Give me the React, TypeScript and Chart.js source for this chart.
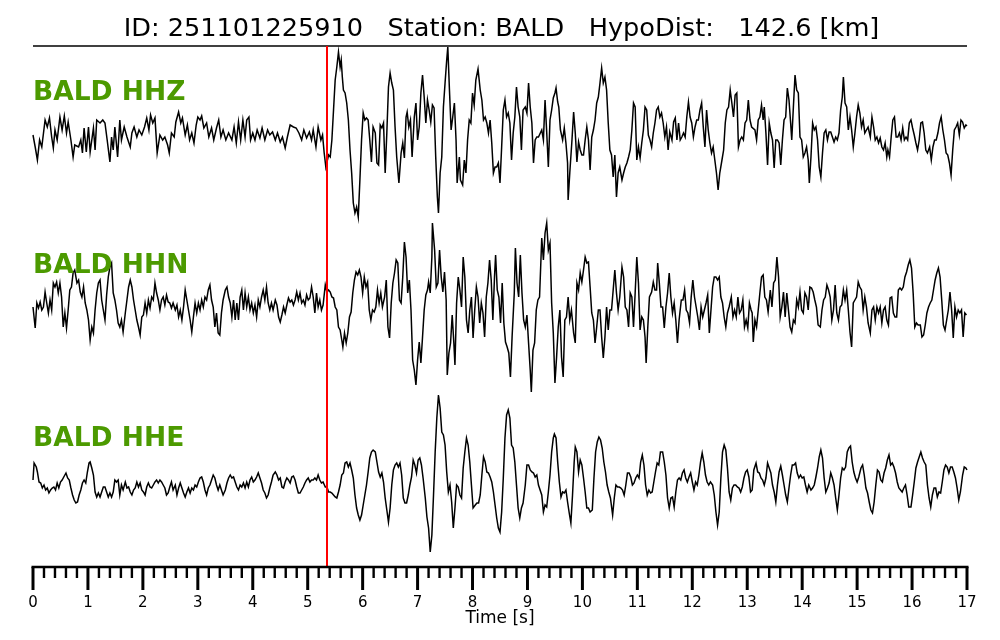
import React, { useEffect, useRef } from "react";
import { Chart, registerables } from "chart.js";

Chart.register(...registerables);

// ---------------- data ----------------
const titleText = "ID: 251101225910   Station: BALD   HypoDist:   142.6 [km]";
const channelNames = ["BALD HHZ", "BALD HHN", "BALD HHE"];
const xAxisTitle = "Time [s]";
const pickTime = 5.35; // P pick [s]
const timeMin = 0;
const timeMax = 17;
const majorTickStep = 1;
const minorTickStep = 0.2;
const tickLabels = ["0","1","2","3","4","5","6","7","8","9","10","11","12","13","14","15","16","17"];

// [time s, relative amplitude]
const hhzTrace: number[][] = [
[0.00,0],[0.04,-12],[0.08,-25],[0.12,-5],[0.16,-12],[0.22,15],[0.26,8],[0.30,17],[0.34,-2],[0.37,-13],[0.40,5],[0.44,-5],[0.49,18],[0.53,5],[0.57,19],[0.61,2],[0.64,13],[0.69,-5],[0.73,-22],[0.76,-10],[0.83,-12],[0.87,-5],[0.90,-18],[0.93,7],[0.97,-17],[1.01,8],[1.04,-17],[1.10,7],[1.13,-15],[1.16,15],[1.22,12],[1.27,15],[1.31,12],[1.35,-5],[1.40,-27],[1.43,-2],[1.46,-15],[1.49,8],[1.54,-22],[1.58,15],[1.61,-5],[1.66,8],[1.71,-2],[1.77,-12],[1.80,2],[1.84,8],[1.89,-2],[1.93,5],[1.98,0],[2.03,8],[2.07,17],[2.11,5],[2.14,20],[2.18,12],[2.22,17],[2.26,-18],[2.31,0],[2.36,-5],[2.40,-2],[2.45,-10],[2.48,-18],[2.52,2],[2.57,-2],[2.60,13],[2.65,23],[2.69,12],[2.72,17],[2.77,0],[2.81,10],[2.85,-5],[2.89,2],[2.93,-8],[2.97,10],[3.00,18],[3.04,15],[3.07,19],[3.11,7],[3.16,12],[3.20,-2],[3.25,7],[3.29,-5],[3.34,7],[3.38,15],[3.42,-2],[3.46,5],[3.51,-5],[3.56,2],[3.62,-5],[3.66,8],[3.70,-8],[3.74,13],[3.78,-5],[3.82,15],[3.86,-2],[3.89,15],[3.93,18],[3.96,-5],[4.00,2],[4.04,-5],[4.08,5],[4.13,-3],[4.17,7],[4.22,-5],[4.27,5],[4.31,0],[4.36,3],[4.41,-5],[4.45,2],[4.50,-7],[4.54,-2],[4.59,-13],[4.63,-2],[4.68,10],[4.74,8],[4.79,7],[4.84,2],[4.89,-5],[4.93,5],[4.98,-3],[5.03,3],[5.07,-5],[5.10,5],[5.15,-12],[5.19,8],[5.24,-5],[5.27,0],[5.30,-18],[5.33,-32],
[5.38,-20],[5.41,-22],[5.44,-5],[5.47,25],[5.50,55],[5.53,68],[5.56,83],[5.59,68],[5.61,75],[5.63,58],[5.65,45],[5.68,42],[5.71,32],[5.74,15],[5.77,-15],[5.80,-38],[5.83,-68],[5.86,-78],[5.89,-72],[5.92,-82],[5.95,-45],[5.98,-5],[6.01,22],[6.04,15],[6.07,17],[6.10,15],[6.13,-5],[6.16,-27],[6.19,8],[6.23,2],[6.26,-28],[6.29,-30],[6.32,10],[6.35,7],[6.38,12],[6.41,-38],[6.44,2],[6.47,48],[6.50,62],[6.53,52],[6.56,45],[6.59,8],[6.62,-22],[6.66,-48],[6.70,-18],[6.73,-8],[6.76,-23],[6.79,18],[6.81,23],[6.84,8],[6.87,15],[6.90,-22],[6.94,18],[6.97,32],[7.00,-5],[7.03,8],[7.06,42],[7.09,60],[7.12,38],[7.15,12],[7.18,35],[7.21,25],[7.24,13],[7.27,30],[7.30,27],[7.33,-22],[7.36,-62],[7.38,-78],[7.41,-38],[7.44,-22],[7.47,28],[7.50,52],[7.53,75],[7.55,88],[7.58,45],[7.61,5],[7.64,18],[7.67,32],[7.70,-5],[7.72,-48],[7.76,-22],[7.78,-45],[7.82,-50],[7.85,-25],[7.88,-38],[7.91,-5],[7.94,15],[7.97,12],[8.00,42],[8.03,30],[8.06,55],[8.10,66],[8.14,45],[8.17,35],[8.20,15],[8.23,18],[8.26,12],[8.29,2],[8.32,15],[8.35,-8],[8.38,-38],[8.41,-32],[8.44,-32],[8.47,-28],[8.50,-48],[8.53,-12],[8.56,25],[8.59,35],[8.62,18],[8.65,22],[8.68,12],[8.71,-25],[8.74,2],[8.77,18],[8.80,48],[8.83,28],[8.86,18],[8.89,-15],[8.92,25],[8.96,28],[8.99,22],[9.02,52],[9.05,28],[9.08,12],[9.11,-28],[9.14,-5],[9.17,-2],[9.20,-2],
[9.26,5],[9.29,-5],[9.32,35],[9.35,3],[9.38,-32],[9.41,15],[9.44,25],[9.47,37],[9.50,42],[9.52,47],[9.55,33],[9.57,28],[9.60,5],[9.64,-5],[9.67,7],[9.70,-8],[9.73,-28],[9.74,-65],[9.77,-38],[9.81,-5],[9.84,23],[9.87,2],[9.90,-27],[9.93,-7],[9.96,-15],[9.99,-20],[10.02,-20],[10.05,-5],[10.08,8],[10.11,-5],[10.14,-35],[10.17,-2],[10.20,5],[10.23,15],[10.26,32],[10.29,38],[10.32,52],[10.35,67],[10.38,52],[10.41,58],[10.44,45],[10.47,12],[10.50,-15],[10.53,-20],[10.56,-42],[10.59,-20],[10.62,-62],[10.65,-38],[10.68,-32],[10.72,-45],[10.75,-38],[10.78,-32],[10.81,-28],[10.84,-22],[10.87,-15],[10.90,5],[10.93,32],[10.96,28],[10.99,-25],[11.02,-12],[11.05,-23],[11.08,-8],[11.11,5],[11.14,28],[11.17,25],[11.20,0],[11.23,-5],[11.26,-12],[11.29,2],[11.32,12],[11.35,25],[11.38,28],[11.41,18],[11.44,22],[11.47,12],[11.50,-2],[11.53,8],[11.56,-15],[11.59,3],[11.63,-5],[11.66,13],[11.69,17],[11.72,-5],[11.75,12],[11.78,-5],[11.81,-2],[11.84,2],[11.87,-2],[11.90,18],[11.93,33],[11.96,18],[11.99,12],[12.02,-2],[12.05,8],[12.08,15],[12.11,15],[12.14,25],[12.17,32],[12.20,8],[12.23,-12],[12.26,25],[12.29,5],[12.32,-8],[12.35,-18],[12.38,-12],[12.41,-25],[12.44,-38],[12.47,-55],[12.50,-38],[12.54,-25],[12.57,-15],[12.60,12],[12.63,25],[12.66,28],[12.69,45],[12.72,32],[12.75,18],[12.78,40],[12.81,42],[12.84,-12],[12.87,-5],[12.90,-2],[12.93,-5],[12.96,12],[12.99,15],[13.02,35],[13.05,15],[13.08,8],
[13.14,5],[13.17,-5],[13.20,15],[13.23,18],[13.26,30],[13.29,15],[13.31,28],[13.34,2],[13.37,-30],[13.40,12],[13.43,2],[13.46,-5],[13.49,-33],[13.52,-5],[13.55,-5],[13.58,-8],[13.61,-30],[13.64,-5],[13.67,15],[13.70,18],[13.73,47],[13.76,35],[13.79,12],[13.81,-5],[13.84,28],[13.87,60],[13.90,45],[13.93,42],[13.96,-2],[13.99,-5],[14.02,-22],[14.05,-18],[14.08,-12],[14.11,-25],[14.13,-48],[14.16,-22],[14.19,12],[14.22,5],[14.25,8],[14.28,-5],[14.31,-32],[14.34,-42],[14.37,-18],[14.40,2],[14.43,5],[14.46,-5],[14.49,3],[14.52,3],[14.55,-2],[14.58,-7],[14.61,-2],[14.64,-5],[14.67,2],[14.70,25],[14.73,38],[14.75,58],[14.78,32],[14.81,28],[14.84,5],[14.87,18],[14.90,5],[14.93,-12],[14.96,2],[14.99,18],[15.02,30],[15.05,22],[15.08,8],[15.11,15],[15.14,2],[15.17,5],[15.20,8],[15.24,-2],[15.27,18],[15.30,8],[15.33,-5],[15.36,-2],[15.39,-8],[15.42,-3],[15.45,-12],[15.48,-15],[15.51,-8],[15.54,-22],[15.56,-15],[15.59,-22],[15.62,-2],[15.65,15],[15.68,18],[15.71,-2],[15.74,-2],[15.77,2],[15.80,-5],[15.83,7],[15.86,-5],[15.89,-2],[15.92,-5],[15.95,12],[15.98,15],[16.01,7],[16.04,0],[16.07,-8],[16.10,-15],[16.13,-5],[16.16,12],[16.19,13],[16.22,2],[16.25,-15],[16.28,-18],[16.32,-12],[16.35,-25],[16.38,-12],[16.41,-5],[16.44,-5],[16.47,2],[16.50,12],[16.53,18],[16.56,5],[16.59,-5],[16.62,-18],[16.65,-20],[16.68,-28],[16.71,-40],[16.74,-15],[16.77,5],[16.80,8],[16.83,12],[16.86,0],[16.89,15],[16.92,13],[16.95,7],[16.98,10],[17.00,9]
];

const hhnTrace: number[][] = [
[0.00,0],[0.04,-21],[0.07,4],[0.10,-1],[0.13,5],[0.16,-3],[0.19,0],[0.22,15],[0.25,4],[0.28,-6],[0.31,7],[0.34,-3],[0.37,24],[0.40,20],[0.43,25],[0.46,14],[0.49,24],[0.52,10],[0.55,-20],[0.58,-6],[0.61,-21],[0.64,-3],[0.67,17],[0.70,20],[0.73,34],[0.76,37],[0.80,24],[0.83,27],[0.86,15],[0.89,10],[0.92,20],[0.95,4],[0.98,-3],[1.01,-13],[1.04,-33],[1.07,-20],[1.10,-26],[1.13,-3],[1.16,14],[1.19,24],[1.22,27],[1.25,7],[1.28,-3],[1.31,-13],[1.34,12],[1.37,30],[1.40,40],[1.43,44],[1.46,14],[1.49,7],[1.52,-3],[1.55,-16],[1.58,-20],[1.61,-13],[1.64,-25],[1.68,-6],[1.71,7],[1.74,20],[1.77,27],[1.80,20],[1.83,7],[1.86,-3],[1.89,-13],[1.92,-20],[1.95,-28],[1.98,-10],[2.01,-8],[2.04,4],[2.07,-6],[2.10,7],[2.13,-1],[2.16,10],[2.19,7],[2.22,24],[2.25,14],[2.28,7],[2.31,-3],[2.34,7],[2.37,10],[2.40,2],[2.43,12],[2.46,5],[2.49,4],[2.52,-1],[2.55,4],[2.59,-3],[2.62,2],[2.65,-10],[2.68,-3],[2.71,-13],[2.74,0],[2.77,17],[2.80,7],[2.83,-3],[2.86,-13],[2.89,-25],[2.92,-10],[2.95,4],[2.98,-6],[3.01,4],[3.04,-3],[3.07,7],[3.10,0],[3.13,10],[3.16,7],[3.19,17],[3.22,22],[3.25,7],[3.28,0],[3.31,-20],[3.34,-6],[3.37,-26],[3.40,-28],[3.43,-6],[3.46,7],[3.50,17],[3.53,20],[3.56,10],[3.59,4],[3.62,-10],[3.65,7],[3.68,-13],[3.71,4],[3.74,-13],[3.77,10],[3.80,17],[3.83,-3],[3.86,14],[3.89,0],[3.92,10],[3.95,-3],[3.98,4],[4.01,-6],[4.04,2],[4.07,-10],[4.10,7],[4.13,0],[4.16,10],[4.19,17],[4.22,7],[4.25,20],[4.28,4],[4.31,-3],[4.34,4],[4.37,-3],[4.41,7],[4.44,2],[4.47,-10],[4.50,-15],[4.53,-8],[4.56,0],[4.59,-6],[4.62,2],[4.65,9],[4.68,5],[4.71,7],[4.74,2],[4.77,7],[4.80,15],[4.83,7],[4.86,14],[4.89,4],[4.92,7],[4.95,2],[4.98,12],[5.01,7],[5.04,9],[5.07,20],[5.10,10],[5.13,-6],[5.16,14],[5.19,0],[5.22,7],[5.25,-3],[5.28,2],[5.32,22],[5.35,15],
[5.38,17],[5.41,15],[5.44,10],[5.47,9],[5.50,0],[5.53,-3],[5.56,-20],[5.59,-23],[5.62,-33],[5.64,-40],[5.67,-26],[5.70,-36],[5.73,-26],[5.76,-10],[5.79,-5],[5.82,14],[5.85,27],[5.88,35],[5.91,32],[5.94,37],[5.97,30],[6.00,14],[6.03,30],[6.06,20],[6.09,25],[6.12,-3],[6.15,-13],[6.18,-3],[6.21,-5],[6.24,0],[6.27,17],[6.30,4],[6.33,14],[6.36,0],[6.40,10],[6.43,27],[6.46,-20],[6.49,-31],[6.52,4],[6.55,24],[6.58,34],[6.61,47],[6.64,44],[6.67,7],[6.70,4],[6.73,30],[6.76,65],[6.79,50],[6.82,14],[6.85,27],[6.88,-3],[6.91,-53],[6.94,-63],[6.97,-78],[7.00,-53],[7.03,-35],[7.06,-56],[7.09,-30],[7.12,-3],[7.15,12],[7.18,17],[7.20,25],[7.23,14],[7.26,50],[7.27,84],[7.31,57],[7.34,20],[7.37,24],[7.40,57],[7.43,30],[7.46,15],[7.49,35],[7.52,7],[7.54,-68],[7.57,-46],[7.60,-36],[7.63,-8],[7.66,-36],[7.68,-58],[7.71,4],[7.74,30],[7.77,17],[7.80,0],[7.83,50],[7.86,30],[7.89,-13],[7.92,-26],[7.95,-3],[7.98,10],[8.01,-31],[8.04,-3],[8.07,20],[8.10,10],[8.13,-16],[8.16,4],[8.19,-6],[8.22,-30],[8.25,10],[8.28,24],[8.31,47],[8.34,27],[8.37,-13],[8.40,30],[8.42,52],[8.45,17],[8.48,10],[8.51,-16],[8.54,24],[8.57,-16],[8.60,-35],[8.63,-40],[8.66,-46],[8.69,-70],[8.72,-30],[8.76,14],[8.78,59],[8.81,24],[8.84,10],[8.87,52],[8.90,14],[8.93,-13],[8.96,-20],[8.99,-8],[9.02,-36],[9.05,-63],[9.07,-85],[9.10,-43],[9.13,-36],[9.16,-3],[9.19,7],[9.22,10],
[9.26,69],[9.29,47],[9.32,74],[9.35,84],[9.38,57],[9.41,64],[9.44,4],[9.47,-26],[9.50,-76],[9.53,-50],[9.56,-20],[9.59,-3],[9.62,-50],[9.65,-70],[9.68,-13],[9.71,-10],[9.74,10],[9.77,-13],[9.80,-3],[9.84,-26],[9.87,-36],[9.90,24],[9.93,17],[9.96,34],[9.99,25],[10.02,37],[10.05,50],[10.08,44],[10.11,45],[10.14,20],[10.17,-6],[10.20,-13],[10.23,-36],[10.26,-20],[10.29,-3],[10.32,-3],[10.35,-30],[10.38,-51],[10.41,-30],[10.44,0],[10.47,-23],[10.50,-3],[10.53,-3],[10.56,17],[10.59,37],[10.62,14],[10.65,-3],[10.68,10],[10.72,40],[10.75,30],[10.78,0],[10.81,-3],[10.84,-20],[10.87,14],[10.90,10],[10.93,-20],[10.96,14],[10.99,50],[11.02,24],[11.05,-23],[11.08,-10],[11.11,-13],[11.14,-30],[11.16,-56],[11.19,-20],[11.22,10],[11.26,15],[11.29,25],[11.32,17],[11.35,17],[11.37,44],[11.40,24],[11.43,0],[11.46,0],[11.49,-21],[11.52,0],[11.55,14],[11.58,34],[11.61,10],[11.64,-6],[11.67,4],[11.70,-13],[11.73,-36],[11.76,-13],[11.80,7],[11.83,7],[11.86,17],[11.89,-3],[11.92,-6],[11.95,-16],[11.98,10],[12.01,27],[12.04,10],[12.07,0],[12.10,-10],[12.13,-23],[12.16,0],[12.19,-10],[12.22,-3],[12.25,4],[12.28,12],[12.31,-26],[12.34,-3],[12.37,20],[12.40,30],[12.43,30],[12.46,27],[12.49,30],[12.52,10],[12.55,4],[12.58,-10],[12.61,-20],[12.64,-6],[12.67,0],[12.71,10],[12.74,-10],[12.77,-3],[12.80,-10],[12.83,10],[12.86,-6],[12.89,-3],[12.92,7],[12.95,-20],[12.98,-13],[13.01,-21],[13.04,4],[13.07,-3],[13.09,-6],[13.11,-35],
[13.14,-13],[13.17,-20],[13.20,-3],[13.23,14],[13.26,30],[13.29,32],[13.32,10],[13.35,7],[13.38,-5],[13.42,17],[13.45,0],[13.48,24],[13.51,27],[13.54,50],[13.57,30],[13.60,-10],[13.63,0],[13.66,15],[13.69,-10],[13.72,14],[13.75,-3],[13.78,-20],[13.81,-25],[13.84,-13],[13.87,-16],[13.90,7],[13.93,0],[13.96,15],[13.99,-3],[14.02,-6],[14.05,14],[14.08,10],[14.11,-3],[14.14,20],[14.17,19],[14.20,15],[14.23,7],[14.26,0],[14.29,-18],[14.33,-20],[14.36,-3],[14.39,7],[14.42,10],[14.45,22],[14.48,17],[14.51,10],[14.54,-13],[14.57,-3],[14.60,22],[14.63,-6],[14.66,-13],[14.69,0],[14.72,2],[14.75,17],[14.78,7],[14.81,17],[14.84,-3],[14.87,-25],[14.90,-40],[14.93,4],[14.96,7],[14.99,10],[15.02,25],[15.05,20],[15.08,17],[15.11,-3],[15.14,10],[15.17,0],[15.20,-16],[15.24,-26],[15.27,-3],[15.30,0],[15.33,-13],[15.36,0],[15.39,-6],[15.42,0],[15.45,-16],[15.48,-3],[15.51,0],[15.54,-13],[15.57,-18],[15.60,9],[15.63,10],[15.66,-6],[15.69,-10],[15.72,-10],[15.75,17],[15.78,19],[15.81,17],[15.84,20],[15.87,30],[15.90,35],[15.93,42],[15.96,47],[15.99,39],[16.02,14],[16.05,-20],[16.08,-16],[16.11,-18],[16.15,-18],[16.18,-30],[16.21,-28],[16.24,-18],[16.27,-6],[16.30,0],[16.33,4],[16.36,7],[16.39,17],[16.42,27],[16.45,34],[16.48,39],[16.51,30],[16.54,7],[16.57,-18],[16.60,-23],[16.63,-13],[16.66,-3],[16.69,15],[16.72,-3],[16.75,-31],[16.78,0],[16.81,-10],[16.84,-3],[16.87,-6],[16.90,-3],[16.93,-30],[16.96,-6],[16.99,-8]
];

const hheTrace: number[][] = [
[0.00,7],[0.02,24],[0.06,20],[0.08,15],[0.11,5],[0.14,4],[0.17,-1],[0.20,2],[0.23,-3],[0.26,-1],[0.29,-6],[0.32,-3],[0.35,-1],[0.38,0],[0.41,-3],[0.44,4],[0.47,-1],[0.50,5],[0.53,7],[0.56,10],[0.60,14],[0.63,9],[0.66,7],[0.69,-1],[0.72,-8],[0.75,-13],[0.78,-16],[0.81,-15],[0.84,-8],[0.87,-3],[0.90,4],[0.93,7],[0.96,4],[0.99,15],[1.02,24],[1.04,25],[1.07,19],[1.10,12],[1.13,-5],[1.16,-10],[1.19,-6],[1.22,-10],[1.25,-5],[1.28,0],[1.31,0],[1.34,-5],[1.37,-10],[1.40,-6],[1.43,-10],[1.46,-5],[1.49,7],[1.52,5],[1.55,7],[1.58,-8],[1.61,2],[1.64,-3],[1.68,5],[1.71,-1],[1.74,0],[1.77,-5],[1.80,-8],[1.83,-3],[1.86,-1],[1.89,5],[1.92,0],[1.95,4],[1.98,-3],[2.01,-5],[2.04,-8],[2.07,0],[2.10,4],[2.13,0],[2.16,-1],[2.19,2],[2.22,5],[2.25,7],[2.28,4],[2.31,7],[2.34,5],[2.37,2],[2.40,-1],[2.43,-8],[2.46,-6],[2.49,0],[2.52,5],[2.55,-3],[2.59,2],[2.62,-8],[2.65,-1],[2.68,4],[2.71,-1],[2.74,-6],[2.77,-10],[2.80,-5],[2.83,-1],[2.86,-6],[2.89,-1],[2.92,-3],[2.95,2],[2.98,0],[3.01,5],[3.04,9],[3.07,10],[3.10,5],[3.13,-3],[3.16,-8],[3.19,-1],[3.22,2],[3.25,7],[3.28,12],[3.31,9],[3.34,2],[3.37,-3],[3.40,2],[3.43,-3],[3.46,-8],[3.50,-3],[3.53,4],[3.56,9],[3.59,12],[3.62,9],[3.65,10],[3.68,5],[3.71,0],[3.74,-3],[3.77,2],[3.80,0],[3.83,4],[3.86,-1],[3.89,5],[3.92,0],[3.95,7],[3.98,10],[4.01,5],[4.04,7],[4.07,10],[4.10,14],[4.13,9],[4.16,4],[4.19,-3],[4.22,-6],[4.25,-11],[4.28,-8],[4.31,-1],[4.34,5],[4.37,12],[4.41,15],[4.44,12],[4.47,7],[4.50,9],[4.53,0],[4.56,-1],[4.59,5],[4.62,9],[4.65,7],[4.68,4],[4.71,10],[4.74,11],[4.77,7],[4.80,0],[4.83,-6],[4.86,-6],[4.89,-3],[4.92,0],[4.95,4],[4.98,7],[5.01,9],[5.04,5],[5.07,7],[5.10,7],[5.13,9],[5.16,7],[5.19,12],[5.22,7],[5.25,4],[5.28,5],[5.32,0],[5.35,0],
[5.38,-5],[5.41,-5],[5.44,-6],[5.47,-8],[5.50,-10],[5.53,-11],[5.56,-5],[5.59,2],[5.62,12],[5.65,14],[5.68,24],[5.71,25],[5.74,20],[5.77,24],[5.80,17],[5.83,9],[5.86,-8],[5.89,-21],[5.92,-28],[5.95,-33],[5.98,-28],[6.01,-18],[6.04,-8],[6.07,2],[6.10,15],[6.13,29],[6.16,35],[6.19,37],[6.23,35],[6.26,25],[6.29,15],[6.32,10],[6.35,14],[6.38,5],[6.41,-11],[6.44,-23],[6.47,-35],[6.50,-21],[6.53,2],[6.56,17],[6.59,22],[6.62,24],[6.65,20],[6.68,24],[6.71,12],[6.74,-11],[6.77,-16],[6.80,-16],[6.83,-8],[6.86,2],[6.89,10],[6.92,27],[6.95,22],[6.98,14],[7.01,27],[7.04,29],[7.07,22],[7.10,9],[7.14,-11],[7.17,-30],[7.20,-41],[7.23,-65],[7.26,-48],[7.29,-8],[7.32,35],[7.35,69],[7.38,92],[7.41,79],[7.44,55],[7.47,52],[7.50,42],[7.53,15],[7.56,-5],[7.59,2],[7.62,-15],[7.65,-41],[7.68,-21],[7.71,2],[7.74,0],[7.77,-8],[7.80,-11],[7.83,19],[7.86,35],[7.89,49],[7.92,42],[7.95,25],[7.98,2],[8.01,-21],[8.05,-18],[8.08,-16],[8.11,-16],[8.14,-8],[8.17,12],[8.20,30],[8.23,25],[8.26,15],[8.29,14],[8.32,10],[8.35,5],[8.38,-5],[8.41,-18],[8.44,-31],[8.47,-41],[8.50,-45],[8.53,-25],[8.56,9],[8.59,49],[8.62,72],[8.65,77],[8.68,69],[8.71,42],[8.74,39],[8.77,25],[8.80,2],[8.83,-21],[8.86,-31],[8.89,-21],[8.92,-16],[8.96,2],[8.99,22],[9.02,22],[9.05,17],[9.08,15],[9.11,14],[9.14,10],[9.17,12],[9.20,2],
[9.26,-8],[9.29,-25],[9.32,-18],[9.35,-20],[9.38,-5],[9.41,12],[9.44,35],[9.47,49],[9.49,53],[9.52,49],[9.55,25],[9.58,5],[9.61,-10],[9.64,-5],[9.67,-6],[9.70,-3],[9.73,-15],[9.76,-26],[9.79,-36],[9.82,-8],[9.85,25],[9.87,40],[9.90,35],[9.93,15],[9.96,27],[9.99,22],[10.02,9],[10.05,-5],[10.08,-21],[10.11,-21],[10.14,-25],[10.18,-23],[10.21,9],[10.24,35],[10.27,45],[10.30,50],[10.33,47],[10.36,39],[10.39,25],[10.42,15],[10.45,2],[10.48,-5],[10.51,-11],[10.55,-28],[10.58,-11],[10.61,2],[10.64,0],[10.67,0],[10.70,-1],[10.73,-3],[10.76,-8],[10.79,2],[10.82,14],[10.85,14],[10.88,10],[10.91,2],[10.94,4],[10.97,9],[11.00,12],[11.03,9],[11.06,25],[11.09,32],[11.12,22],[11.15,2],[11.18,-8],[11.21,-3],[11.24,-6],[11.27,-5],[11.30,5],[11.33,15],[11.36,24],[11.39,22],[11.42,35],[11.46,35],[11.49,25],[11.52,12],[11.55,-11],[11.58,-21],[11.61,-11],[11.64,-10],[11.67,-20],[11.70,-5],[11.73,7],[11.76,9],[11.79,7],[11.82,14],[11.85,17],[11.88,9],[11.91,5],[11.94,10],[11.97,14],[12.00,5],[12.03,-3],[12.06,5],[12.09,2],[12.12,12],[12.15,25],[12.18,34],[12.21,25],[12.24,12],[12.27,5],[12.30,2],[12.33,5],[12.37,2],[12.40,-8],[12.43,-25],[12.46,-38],[12.49,-25],[12.52,9],[12.55,35],[12.58,42],[12.61,37],[12.64,19],[12.67,-5],[12.70,-13],[12.73,-1],[12.76,2],[12.79,2],[12.82,0],[12.85,-1],[12.88,-5],[12.91,0],[12.94,9],[12.97,15],[13.00,17],[13.03,10],[13.06,-5],[13.09,-3],[13.12,17],
[13.16,24],[13.19,15],[13.22,14],[13.25,9],[13.28,7],[13.31,2],[13.34,9],[13.37,24],[13.40,19],[13.43,14],[13.46,2],[13.49,-5],[13.52,-15],[13.55,2],[13.58,15],[13.61,21],[13.64,12],[13.67,2],[13.70,-8],[13.73,-15],[13.76,-1],[13.79,12],[13.82,22],[13.85,22],[13.88,24],[13.91,14],[13.94,9],[13.97,12],[14.00,9],[14.03,10],[14.06,2],[14.09,-5],[14.12,2],[14.16,-3],[14.19,-1],[14.22,2],[14.25,10],[14.28,19],[14.31,30],[14.34,37],[14.37,29],[14.40,9],[14.43,-5],[14.46,-1],[14.49,4],[14.52,14],[14.55,9],[14.58,2],[14.61,-11],[14.64,-23],[14.67,-8],[14.70,9],[14.73,19],[14.76,17],[14.79,20],[14.82,35],[14.85,39],[14.88,41],[14.91,25],[14.94,15],[14.97,9],[15.00,5],[15.03,10],[15.07,19],[15.10,22],[15.13,12],[15.16,-1],[15.19,-6],[15.22,-15],[15.25,-23],[15.28,-26],[15.31,-15],[15.34,2],[15.37,17],[15.40,15],[15.43,7],[15.46,5],[15.49,14],[15.52,19],[15.55,27],[15.58,32],[15.61,22],[15.64,24],[15.67,20],[15.70,14],[15.73,5],[15.76,-1],[15.79,-3],[15.82,-5],[15.85,-1],[15.88,2],[15.91,-8],[15.94,-20],[15.98,-20],[16.01,-8],[16.04,5],[16.07,19],[16.10,25],[16.13,30],[16.16,35],[16.19,29],[16.22,25],[16.25,22],[16.28,2],[16.31,-11],[16.34,-20],[16.37,-8],[16.40,-1],[16.43,-1],[16.46,-10],[16.49,-5],[16.52,-6],[16.55,5],[16.58,17],[16.61,22],[16.64,20],[16.67,14],[16.70,20],[16.73,20],[16.76,15],[16.79,9],[16.82,-1],[16.85,-13],[16.88,-5],[16.92,12],[16.95,20],[16.98,19],[17.00,17]
];

const traces = [hhzTrace, hhnTrace, hheTrace];

// ---------------- layout / style ----------------
const W = 1000;
const H = 640;
const yRange = 521;
const traceOffsets = [432, 260, 80];
const labelBaselines = [467, 294, 121];
const GREEN = "#4c9a00";
const FONT = "'DejaVu Sans', 'Liberation Sans', sans-serif";

const overlayPlugin = {
  id: "seisOverlay",
  afterDatasetsDraw(chart: any) {
    const { ctx, chartArea, scales } = chart;
    const xs = scales.x;
    const ys = scales.y;
    ctx.save();

    // top frame line
    ctx.strokeStyle = "#000";
    ctx.lineWidth = 1.5;
    ctx.beginPath();
    ctx.moveTo(chartArea.left, chartArea.top);
    ctx.lineTo(chartArea.right, chartArea.top);
    ctx.stroke();

    // pick line
    const px = Math.round(xs.getPixelForValue(pickTime));
    ctx.strokeStyle = "#ff0000";
    ctx.lineWidth = 2;
    ctx.beginPath();
    ctx.moveTo(px, chartArea.top);
    ctx.lineTo(px, chartArea.bottom);
    ctx.stroke();

    // bottom axis
    const yb = chartArea.bottom;
    ctx.strokeStyle = "#000";
    ctx.lineWidth = 2.5;
    ctx.beginPath();
    ctx.moveTo(chartArea.left - 1.5, yb);
    ctx.lineTo(chartArea.right + 1.5, yb);
    ctx.stroke();

    const nMinor = Math.round((timeMax - timeMin) / minorTickStep);
    const perMajor = Math.round(majorTickStep / minorTickStep);
    for (let i = 0; i <= nMinor; i++) {
      const t = timeMin + i * minorTickStep;
      const x = xs.getPixelForValue(t);
      const major = i % perMajor === 0;
      ctx.lineWidth = major ? 3 : 2.4;
      ctx.beginPath();
      ctx.moveTo(x, yb);
      ctx.lineTo(x, yb + (major ? 23 : 11));
      ctx.stroke();
    }

    ctx.fillStyle = "#000";
    ctx.font = `15px ${FONT}`;
    ctx.textAlign = "center";
    ctx.textBaseline = "alphabetic";
    tickLabels.forEach((lab, i) => {
      const x = xs.getPixelForValue(timeMin + i * majorTickStep);
      ctx.fillText(lab, x, yb + 40);
    });

    ctx.font = `17px ${FONT}`;
    ctx.fillText(xAxisTitle, (chartArea.left + chartArea.right) / 2, yb + 56);

    // title
    ctx.font = `25.6px ${FONT}`;
    ctx.fillText(titleText, (chartArea.left + chartArea.right) / 2 + 1.5, 36);

    // channel labels
    ctx.fillStyle = GREEN;
    ctx.font = `bold 26.5px ${FONT}`;
    ctx.textAlign = "left";
    channelNames.forEach((name, i) => {
      ctx.fillText(name, chartArea.left, ys.getPixelForValue(labelBaselines[i]));
    });

    ctx.restore();
  },
};

export default function App() {
  const ref = useRef<HTMLCanvasElement | null>(null);
  useEffect(() => {
    if (!ref.current) return;
    const datasets = traces.map((tr, i) => ({
      label: channelNames[i],
      data: tr.map(([t, a]) => ({ x: t, y: a + traceOffsets[i] })),
      borderColor: "#000",
      borderWidth: 1.5,
      pointRadius: 0,
      tension: 0,
      fill: false,
      clip: false as any,
    }));
    const chart = new Chart(ref.current, {
      type: "line",
      data: { datasets },
      options: {
        animation: false,
        responsive: false,
        devicePixelRatio: 1,
        events: [],
        layout: { padding: { left: 33, right: 33, top: 46, bottom: 73 } },
        scales: {
          x: { type: "linear", min: timeMin, max: timeMax, display: false },
          y: { type: "linear", min: 0, max: yRange, display: false },
        },
        plugins: { legend: { display: false }, tooltip: { enabled: false }, title: { display: false } },
      },
      plugins: [overlayPlugin],
    });
    return () => chart.destroy();
  }, []);
  return (
    <div style={{ position: "absolute", left: 0, top: 0, width: W, height: H, background: "#fff" }}>
      <canvas ref={ref} width={W} height={H} style={{ width: W, height: H, display: "block" }} />
    </div>
  );
}
